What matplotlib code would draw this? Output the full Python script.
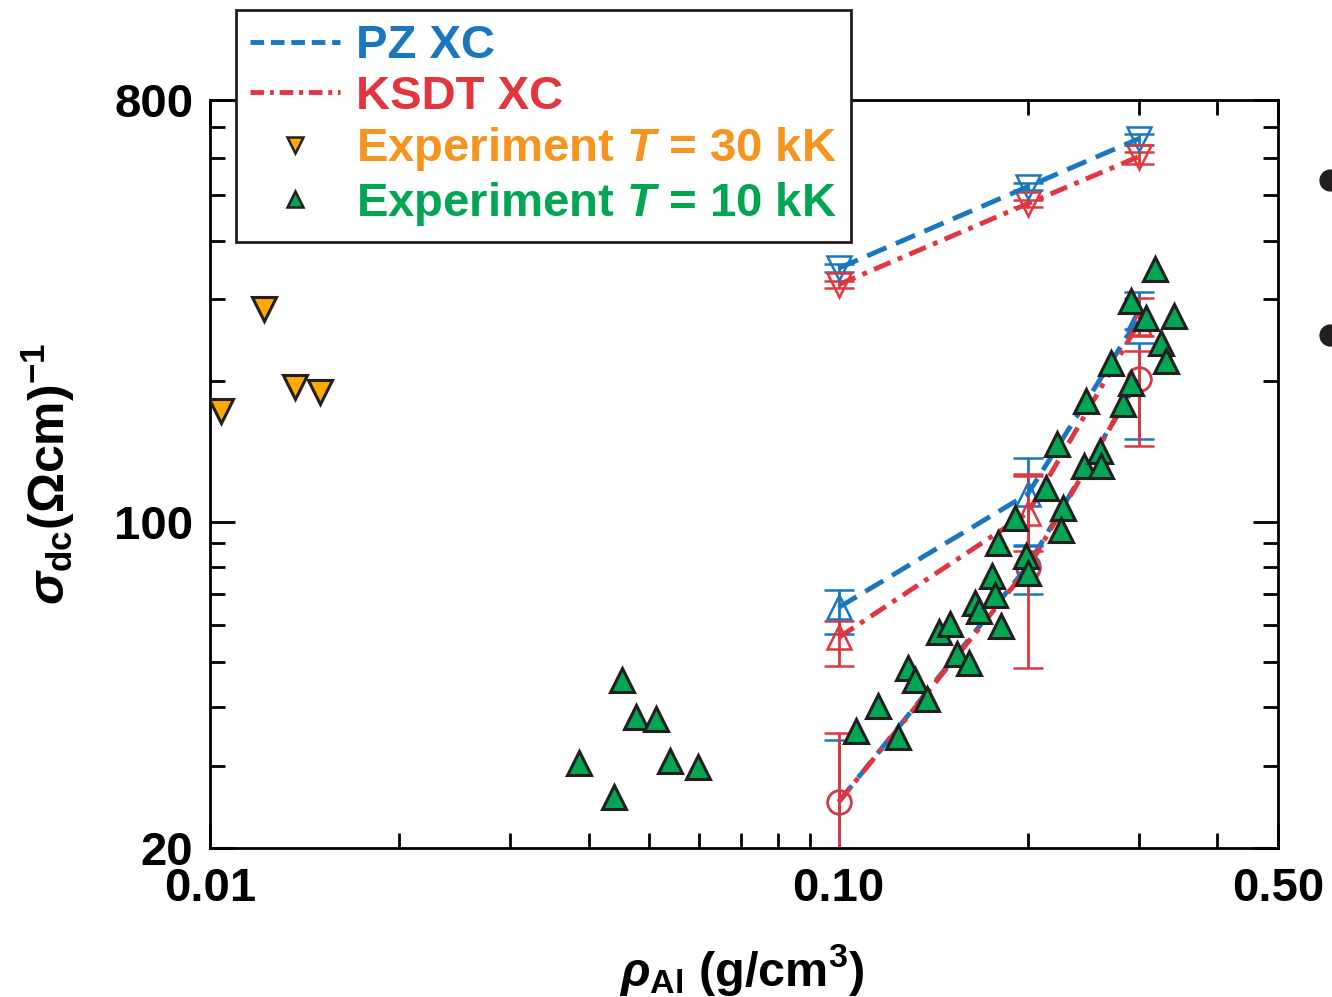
import matplotlib.pyplot as plt
import numpy as np
from matplotlib.lines import Line2D
from matplotlib.ticker import LogLocator, NullFormatter

plt.rcParams['font.family'] = ['Liberation Sans', 'DejaVu Sans']
plt.rcParams['font.weight'] = 'bold'
plt.rcParams['axes.labelweight'] = 'bold'
plt.rcParams['mathtext.fontset'] = 'custom'
plt.rcParams['mathtext.rm'] = 'Liberation Sans:bold'
plt.rcParams['mathtext.it'] = 'Liberation Sans:bold:italic'
plt.rcParams['mathtext.bf'] = 'Liberation Sans:bold'

# --- data ---
dft_rho = [0.1, 0.2, 0.3]

# downward triangles (T = 30 kK calculations)
pz_30 = [349, 522, 661]
pz_30_lo = [342, 512, 642]
pz_30_hi = [356, 532, 678]
ksdt_30 = [322, 480, 605]
ksdt_30_lo = [316, 471, 584]
ksdt_30_hi = [328, 489, 620]

# upward triangles (T = 10 kK calculations)
pz_10 = [65.5, 114.7, 272.6]
pz_10_lo = [57.6, 88.8, 258]
pz_10_hi = [71.5, 137, 311]
ksdt_10 = [56.5, 104.5, 266]
ksdt_10_lo = [49.2, 86.7, 250]
ksdt_10_hi = [61.4, 126.6, 301]

# circles
pz_circ = [25.1, 80.5, 202]
pz_circ_lo = [12, 70, 150]
pz_circ_hi = [34, 89, 241]
ksdt_circ = [25.1, 79.5, 202]
ksdt_circ_lo = [12, 48.5, 145]
ksdt_circ_hi = [35.2, 125, 232]

# experiment T = 30 kK
exp30_rho = [0.01041, 0.01218, 0.01364, 0.01495]
exp30_sig = [172.6, 286, 194, 190]

# experiment T = 10 kK
exp10_rho = [0.04525, 0.04762, 0.05122, 0.03867, 0.05391, 0.05973, 0.04394,
             0.1064, 0.1153, 0.1241, 0.1287, 0.1325, 0.1380, 0.1442, 0.1501,
             0.1545, 0.1614, 0.1650, 0.1674, 0.1755, 0.1775, 0.1814, 0.1795,
             0.1910, 0.1988, 0.2003, 0.2139, 0.2276, 0.2259, 0.2226, 0.2475,
             0.2458, 0.2606, 0.2615, 0.2712, 0.2834, 0.2918, 0.2918, 0.3083,
             0.3186, 0.3414, 0.3256, 0.3316]
exp10_sig = [45.7, 38.1, 37.7, 30.4, 30.7, 29.9, 25.7,
             35.7, 40.2, 34.5, 48.7, 45.7, 41.8, 57.9, 60.5,
             52.2, 49.7, 67.1, 64.5, 76.6, 69.8, 59.9, 90.1,
             101.9, 84.6, 77.8, 118.1, 107.1, 96.1, 146.7, 181.3,
             131.6, 141.7, 131.6, 218.5, 178.6, 198.0, 296.6, 272.6,
             347.0, 275.3, 241.1, 220.7]

labels = ['PZ XC', 'KSDT XC', 'Experiment $T$ = 30 kK', 'Experiment $T$ = 10 kK']

blue = '#1877c0'
red = '#e2363f'
orange_txt = '#f7941d'
orange = '#ffa800'
green = '#00a651'
edge = '#231f20'

dash_pz = (0, (4.3, 2.1))
dash_ksdt = (0, (3.7, 1.6, 1.0, 1.6))

fig = plt.figure(figsize=(13.32, 9.97), dpi=100)
ax = fig.add_axes([0.1577, 0.1494, 0.8018, 0.7503])

def yerr(y, lo, hi):
    y = np.array(y)
    return [y - np.array(lo), np.array(hi) - y]

theory = [
    (pz_30, pz_30_lo, pz_30_hi, ksdt_30, ksdt_30_lo, ksdt_30_hi, 'v'),
    (pz_10, pz_10_lo, pz_10_hi, ksdt_10, ksdt_10_lo, ksdt_10_hi, '^'),
    (pz_circ, pz_circ_lo, pz_circ_hi, ksdt_circ, ksdt_circ_lo, ksdt_circ_hi, 'o'),
]
for pz, pzl, pzh, ks, ksl, ksh, m in theory:
    ax.errorbar(dft_rho, pz, yerr=yerr(pz, pzl, pzh), fmt=m, mfc='none', mec=blue,
                ms=17, mew=1.8, ecolor=blue, elinewidth=2, capsize=11, capthick=2,
                zorder=2)
    ax.errorbar(dft_rho, ks, yerr=yerr(ks, ksl, ksh), fmt=m, mfc='none', mec=red,
                ms=17, mew=1.8, ecolor=red, elinewidth=2, capsize=11, capthick=2,
                zorder=2)
    ax.plot(dft_rho, pz, color=blue, lw=3.5, ls=dash_pz, zorder=3)
    ax.plot(dft_rho, ks, color=red, lw=3.5, ls=dash_ksdt, zorder=3)

ax.plot(exp30_rho, exp30_sig, 'v', mfc=orange, mec=edge, ms=17, mew=2.2, zorder=4)
ax.plot(exp10_rho, exp10_sig, '^', mfc=green, mec=edge, ms=17, mew=2.2, zorder=4)

ax.set_xscale('log')
ax.set_yscale('log')
ax.set_xlim(0.01, 0.5)
ax.set_ylim(20, 800)
ax.set_xticks([0.01, 0.1, 0.5])
ax.set_xticklabels(['0.01', '0.10', '0.50'])
ax.set_yticks([20, 100, 800])
ax.set_yticklabels(['20', '100', '800'])
ax.xaxis.set_minor_locator(LogLocator(subs=np.arange(2, 10)))
ax.yaxis.set_minor_locator(LogLocator(subs=np.arange(2, 10)))
ax.xaxis.set_minor_formatter(NullFormatter())
ax.yaxis.set_minor_formatter(NullFormatter())
ax.tick_params(which='both', direction='in', top=True, right=True, width=2,
               labelsize=34)
ax.tick_params(which='major', length=18)
ax.tick_params(which='minor', length=11)
ax.tick_params(axis='x', pad=14)
ax.tick_params(axis='y', pad=12)
for s in ax.spines.values():
    s.set_linewidth(2)

ax.set_xlabel(r'$\rho_{\mathrm{Al}}$ (g/cm$^{3}$)', fontsize=35, fontweight='bold')
ax.set_ylabel(r'$\sigma_{\mathrm{dc}}(\Omega\mathrm{cm})^{-1}$', fontsize=36)
ax.xaxis.set_label_coords(0.498, -0.125)
ax.yaxis.set_label_coords(-0.125, 0.5)

handles = [
    Line2D([], [], color=blue, lw=3.5, ls=(0, (2.8, 1.4))),
    Line2D([], [], color=red, lw=3.5, ls=(0, (2.8, 1.2, 0.8, 1.2))),
    Line2D([], [], marker='v', ls='none', mfc=orange, mec=edge, ms=12, mew=1.8),
    Line2D([], [], marker='^', ls='none', mfc=green, mec=edge, ms=12, mew=1.8),
]
leg = fig.legend(handles, labels, loc='upper left', bbox_to_anchor=(0.177, 0.99),
                 frameon=True, fancybox=False, edgecolor=edge, framealpha=1,
                 fontsize=34, handlelength=1.9, handletextpad=0.35,
                 labelspacing=0.14, borderpad=0.3, borderaxespad=0)
leg.get_frame().set_linewidth(2)
for t, c in zip(leg.get_texts(), [blue, red, orange_txt, green]):
    t.set_color(c)

# cut-off bullet points at the right edge of the slide
for yb in [0.8195, 0.664]:
    fig.add_artist(Line2D([0.9985], [yb], marker='o', ms=15, color=edge,
                          transform=fig.transFigure))

fig.savefig('out.png', dpi=100)
